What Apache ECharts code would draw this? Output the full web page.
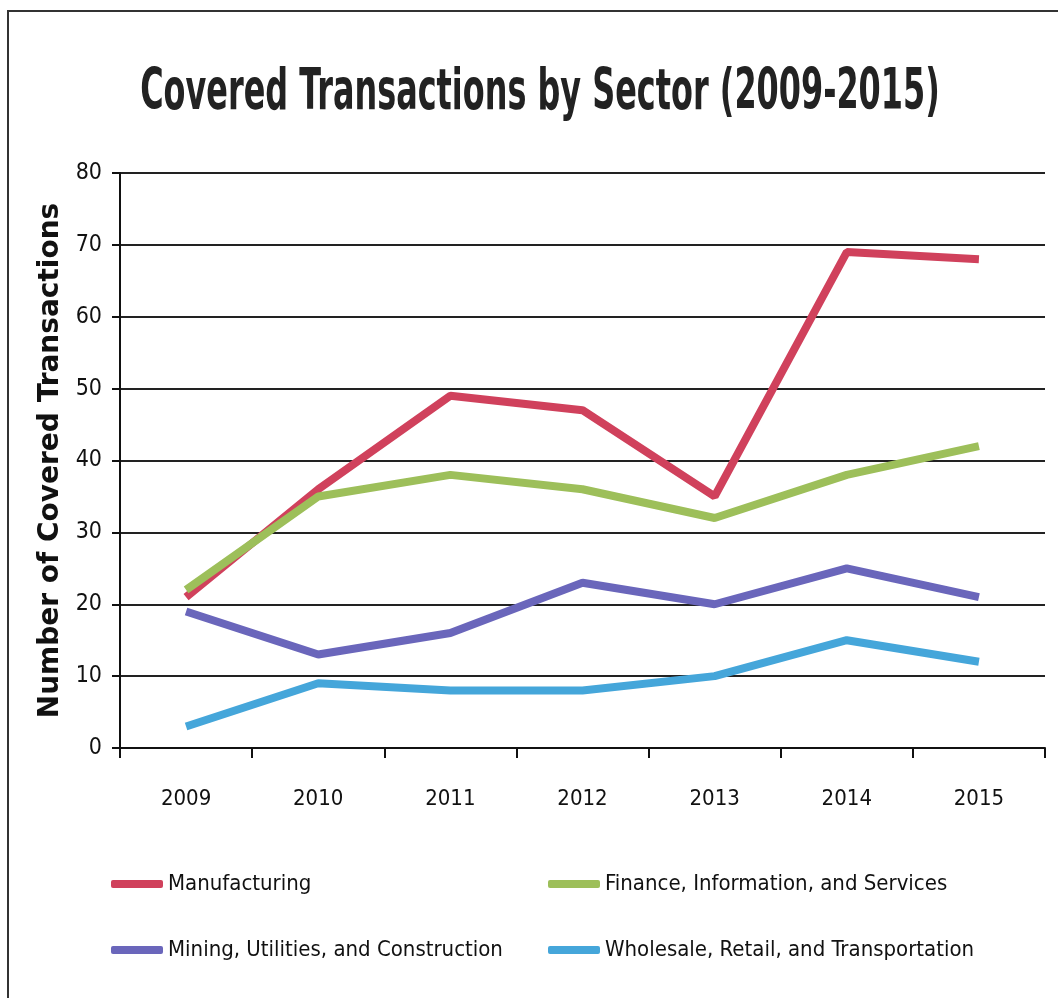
<!DOCTYPE html>
<html><head><meta charset="utf-8">
<script src="https://cdn.jsdelivr.net/npm/echarts@6/dist/echarts.min.js"></script>
<style>html,body{margin:0;padding:0;background:#fff}#c{width:1058px;height:998px}</style>
</head><body><div id="c"></div>
<script>
const years = ['2009','2010','2011','2012','2013','2014','2015'];
const manufacturing = [21, 36, 49, 47, 35, 69, 68];
const finance = [22, 35, 38, 36, 32, 38, 42];
const mining = [19, 13, 16, 23, 20, 25, 21];
const wholesale = [3, 9, 8, 8, 10, 15, 12];
const names = ['Manufacturing','Finance, Information, and Services','Mining, Utilities, and Construction','Wholesale, Retail, and Transportation'];
const titleText = 'Covered Transactions by Sector (2009-2015)';
const colors = ['#d0415c','#9dbf5a','#6a66bb','#45a6da'];
const FONT = '"DejaVu Sans Condensed","Liberation Sans Narrow",sans-serif';
const chart = echarts.init(document.getElementById('c'));
const legendPos = [[106,868],[543,868],[106,934],[543,934]];
chart.setOption({
  animation:false,
  graphic:[
    {type:'rect',shape:{x:8,y:11,width:1060,height:1000},style:{fill:'none',stroke:'#333',lineWidth:2}},
    {type:'text',x:540,y:94,scaleX:0.682,scaleY:1.08,
     style:{text:titleText,textAlign:'center',textVerticalAlign:'middle',
       font:'bold 52px "DejaVu Sans Condensed",sans-serif',fill:'#222'}}
  ],
  legend: names.map((n,i)=>({data:[n],left:legendPos[i][0],top:legendPos[i][1],itemWidth:52,itemHeight:8,itemGap:3,
    icon:'roundRect',textStyle:{fontFamily:FONT,fontSize:22,color:'#111'}})),
  grid:{left:120,right:13,top:173,bottom:250},
  xAxis:{type:'category',data:years,boundaryGap:true,
    axisLine:{lineStyle:{color:'#111',width:2}},
    axisTick:{show:true,length:10,inside:false,lineStyle:{color:'#111',width:2}},
    axisLabel:{fontFamily:FONT,fontSize:22,color:'#111',margin:40}},
  yAxis:{type:'value',min:0,max:80,interval:10,
    name:'Number of Covered Transactions',nameLocation:'middle',nameGap:52,
    nameTextStyle:{fontFamily:'"DejaVu Sans",sans-serif',fontSize:28,fontWeight:'bold',color:'#111'},
    axisLine:{show:true,lineStyle:{color:'#111',width:2}},
    axisTick:{show:true,length:8,lineStyle:{color:'#111',width:2}},
    splitLine:{lineStyle:{color:'#222',width:2}},
    axisLabel:{fontFamily:FONT,fontSize:23,color:'#111',margin:18}},
  series:[manufacturing,finance,mining,wholesale].map((d,i)=>({
    name:names[i],type:'line',data:d,symbol:'none',color:colors[i],
    lineStyle:{width:8,color:colors[i]}
  }))
});
</script></body></html>
